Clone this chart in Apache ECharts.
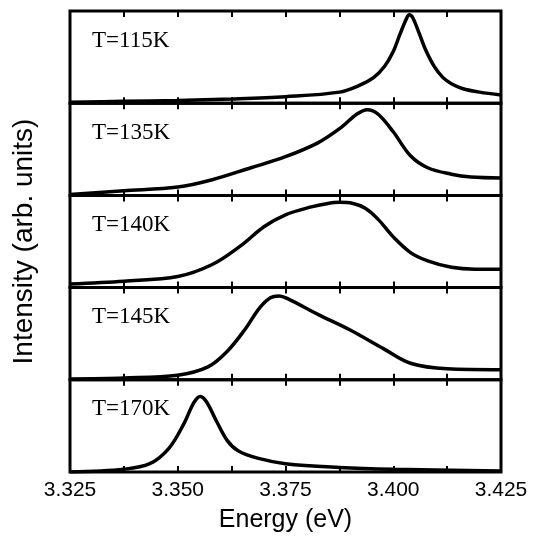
<!DOCTYPE html>
<html>
<head>
<meta charset="utf-8">
<script src="https://cdn.jsdelivr.net/npm/echarts@6/dist/echarts.min.js"></script>
<style>
html, body { margin: 0; padding: 0; background: #fff; }
#charts { width: 533px; height: 537px; }
</style>
</head>
<body>
<div id="charts"></div>
<script>
// panel labels, top to bottom
var panelLabels = ['T=115K', 'T=135K', 'T=140K', 'T=145K', 'T=170K'];

// energy (eV) and intensity (arb. units, 0..1 of panel height)
var e115 = [3.325, 3.3375, 3.35, 3.3625, 3.375, 3.3875, 3.392, 3.3955, 3.398, 3.400, 3.4015, 3.403, 3.4037, 3.4045, 3.406, 3.4075, 3.4095, 3.4115, 3.4135, 3.416, 3.420, 3.425];
var i115 = [0.01, 0.02, 0.03, 0.045, 0.07, 0.12, 0.19, 0.28, 0.40, 0.56, 0.74, 0.91, 0.96, 0.93, 0.76, 0.58, 0.40, 0.28, 0.21, 0.16, 0.12, 0.09];

var e135 = [3.325, 3.3375, 3.35, 3.358, 3.367, 3.375, 3.3825, 3.388, 3.3915, 3.394, 3.3965, 3.400, 3.404, 3.408, 3.4135, 3.418, 3.425];
var i135 = [0.01, 0.05, 0.09, 0.17, 0.30, 0.42, 0.57, 0.74, 0.88, 0.93, 0.88, 0.69, 0.43, 0.30, 0.23, 0.20, 0.19];

var e140 = [3.325, 3.3375, 3.35, 3.358, 3.3645, 3.370, 3.375, 3.381, 3.3845, 3.3875, 3.3905, 3.3935, 3.3965, 3.400, 3.404, 3.408, 3.4135, 3.419, 3.425];
var i140 = [0.04, 0.07, 0.12, 0.25, 0.45, 0.66, 0.79, 0.875, 0.91, 0.925, 0.915, 0.86, 0.74, 0.55, 0.38, 0.29, 0.22, 0.20, 0.20];

var e145 = [3.325, 3.3375, 3.35, 3.357, 3.3615, 3.3655, 3.369, 3.3715, 3.3735, 3.3755, 3.3825, 3.390, 3.398, 3.404, 3.4125, 3.425];
var i145 = [0.01, 0.02, 0.05, 0.14, 0.31, 0.54, 0.78, 0.89, 0.91, 0.88, 0.71, 0.54, 0.33, 0.18, 0.12, 0.11];

var e170 = [3.325, 3.3375, 3.3435, 3.348, 3.3515, 3.3537, 3.3552, 3.3567, 3.359, 3.3615, 3.364, 3.3685, 3.375, 3.3875, 3.400, 3.425];
var i170 = [0.0, 0.03, 0.09, 0.26, 0.53, 0.75, 0.82, 0.76, 0.55, 0.34, 0.23, 0.15, 0.09, 0.05, 0.03, 0.01];

var energies = [e115, e135, e140, e145, e170];
var intensities = [i115, i135, i140, i145, i170];

var xMin = 3.325, xMax = 3.425, xStep = 0.025;

var chart = echarts.init(document.getElementById('charts'));

var grids = [], xAxes = [], yAxes = [], series = [], titles = [];
var top0 = 11, panelH = 92.2;

for (var p = 0; p < 5; p++) {
	var last = (p == 4);
	grids.push({
		left: 70, right: 32, top: top0 + p * panelH, height: panelH,
		show: true, borderColor: '#000', borderWidth: 3, backgroundColor: 'transparent'
	});
	// bottom and top axes, ticks inside on both
	for (var s = 0; s < 2; s++) {
		var ax = {
			type: 'value', gridIndex: p, position: s == 0 ? 'bottom' : 'top',
			min: xMin, max: xMax, interval: xStep,
			axisLine: { show: false },
			axisTick: { show: true, inside: true, length: 6, lineStyle: { color: '#000', width: 2 } },
			minorTick: { show: true, splitNumber: 2, length: 6, lineStyle: { color: '#000', width: 2 } },
			splitLine: { show: false },
			minorSplitLine: { show: false },
			axisLabel: { show: false }
		};
		if (last && s == 0) {
			ax.axisLabel = {
				show: true, showMinLabel: true, showMaxLabel: true, margin: 8,
				color: '#000', fontFamily: 'Liberation Sans', fontSize: 21,
				formatter: function (v) { return v.toFixed(3); }
			};
			ax.name = 'Energy (eV)';
			ax.nameLocation = 'middle';
			ax.nameGap = 36;
			ax.nameTextStyle = { color: '#000', fontFamily: 'Liberation Sans', fontSize: 25 };
		}
		xAxes.push(ax);
	}
	var ya = {
		type: 'value', gridIndex: p, min: 0, max: 1,
		axisLine: { show: false }, axisTick: { show: false },
		axisLabel: { show: false }, splitLine: { show: false }
	};
	if (p == 2) {
		ya.name = 'Intensity (arb. units)';
		ya.nameLocation = 'middle';
		ya.nameGap = 32;
		ya.nameTextStyle = { color: '#000', fontFamily: 'Liberation Sans', fontSize: 28 };
	}
	yAxes.push(ya);

	var pts = [];
	for (var k = 0; k < energies[p].length; k++) {
		pts.push([energies[p][k], intensities[p][k]]);
	}
	series.push({
		type: 'line', xAxisIndex: p * 2, yAxisIndex: p,
		data: pts, smooth: 0.35, symbol: 'none', clip: true,
		lineStyle: { color: '#000', width: 3.5 }
	});

	titles.push({
		text: panelLabels[p], left: 92, top: top0 + p * panelH + 18, padding: 0,
		textStyle: { color: '#000', fontFamily: 'Liberation Serif', fontWeight: 'normal', fontSize: 23 }
	});
}

var option = {
	animation: false,
	backgroundColor: '#fff',
	title: titles,
	grid: grids,
	xAxis: xAxes,
	yAxis: yAxes,
	series: series
};

chart.setOption(option);
</script>
</body>
</html>
